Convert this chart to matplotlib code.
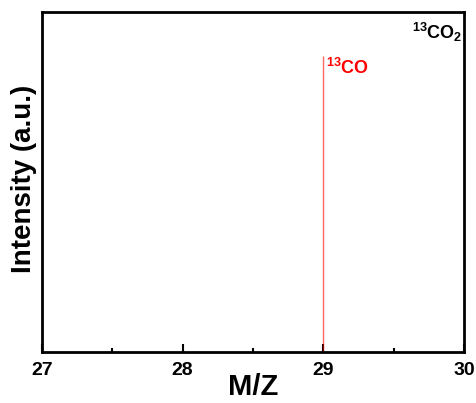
import matplotlib
matplotlib.use("Agg")
import matplotlib.pyplot as plt
from matplotlib.ticker import MultipleLocator

plt.rcParams['font.family'] = ['Liberation Sans', 'DejaVu Sans']
plt.rcParams['font.weight'] = 'bold'
plt.rcParams['mathtext.fontset'] = 'custom'
plt.rcParams['mathtext.rm'] = 'Liberation Sans:bold'
plt.rcParams['mathtext.bf'] = 'Liberation Sans:bold'
plt.rcParams['mathtext.default'] = 'bf'

# peak data
mz = [29.0]
intensity = [0.87]
peak_labels = ['$^{13}$CO']
xticks = [27, 28, 29, 30]

fig = plt.figure(figsize=(4.77, 4.03), dpi=100)
ax = fig.add_axes([42/477, 1-352/403, 422/477, 340/403])

ax.vlines(mz, 0, intensity, color='#ff0000', lw=1.0, alpha=0.6)
ax.text(mz[0] + 0.02, intensity[0] - 0.035, peak_labels[0], color='#ff0000',
        fontsize=13, fontweight='bold', ha='left', va='center')
ax.text(0.995, 0.94, '$^{13}$CO$_2$', transform=ax.transAxes, color='black',
        fontsize=13, fontweight='bold', ha='right', va='center')

ax.set_xlim(27, 30)
ax.set_ylim(0, 1)
ax.set_xticks(xticks)
ax.set_xticklabels([str(t) for t in xticks], fontsize=14, fontweight='bold')
ax.xaxis.set_minor_locator(MultipleLocator(0.5))
ax.set_yticks([])
ax.tick_params(axis='x', which='major', direction='in', length=6, width=1.5, pad=7)
ax.tick_params(axis='x', which='minor', direction='in', length=3, width=1.5)
for s in ax.spines.values():
    s.set_linewidth(2)

ax.set_xlabel('M/Z', fontsize=21, fontweight='bold', labelpad=-4)
ax.set_ylabel('Intensity (a.u.)', fontsize=20, fontweight='bold')
ax.yaxis.set_label_coords(-0.013, 0.51)

fig.savefig('out.png', dpi=100)
